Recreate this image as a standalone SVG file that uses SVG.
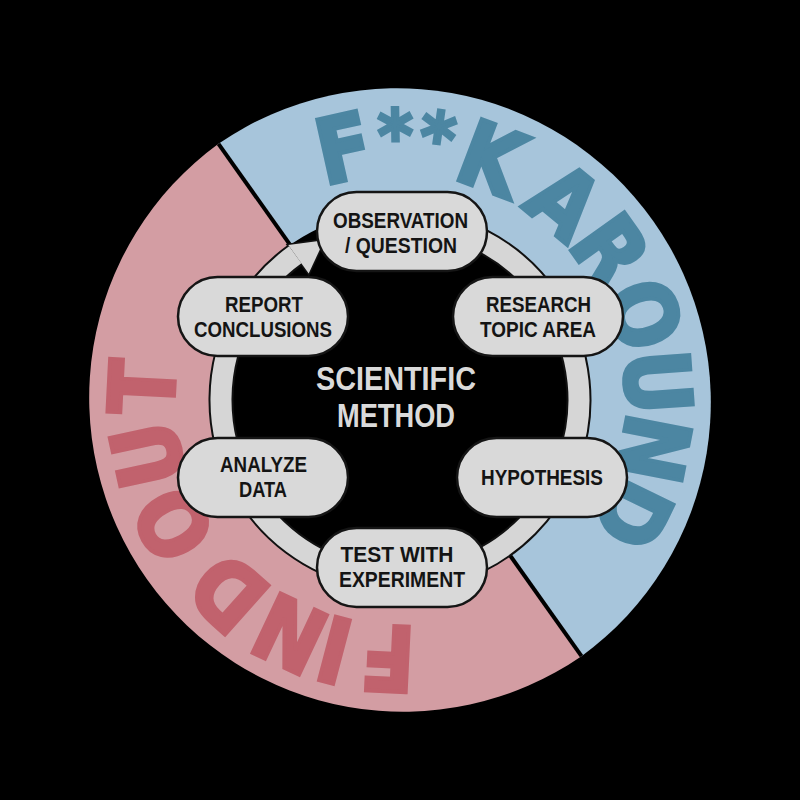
<svg xmlns="http://www.w3.org/2000/svg" width="800" height="800" viewBox="0 0 800 800">
  <style>
    .node rect { fill: #d9d9d9; stroke: #151515; stroke-width: 2.5; }
    .node text { font-family: "Liberation Sans", "Roboto", sans-serif; font-weight: 700; font-size: 22px; fill: #141414; text-anchor: middle; }
    .title { font-family: "Liberation Sans", "Roboto", sans-serif; font-weight: 700; font-size: 33px; fill: #dadada; text-anchor: middle; }
    .al { font-family: "DejaVu Sans", "Liberation Sans", sans-serif; font-weight: 700; font-size: 90px; text-anchor: middle; stroke-width: 4; stroke-linejoin: miter; }
    .ast { font-size: 72px; stroke-width: 3; }
    .blue { fill: #4c86a2; stroke: #4c86a2; }
    .pink { fill: #c1626d; stroke: #c1626d; }
  </style>
  <rect width="800" height="800" fill="#000"/>

  <g id="background-halves">
    <path d="M 581.5,656.2 A 314 314 0 0 1 218.5,143.8 Z" fill="#d39da3"/>
    <path d="M 218.5,143.8 A 314 314 0 0 1 581.5,656.2 Z" fill="#a7c5db"/>
    <line x1="218.5" y1="143.8" x2="581.5" y2="656.2" stroke="#000" stroke-width="4"/>
  </g>

  <g id="label-fk-around" class="al blue">
    <text transform="rotate(-12.6 400 400) translate(400 174) scale(0.88 1)">F</text>
    <text class="ast" transform="rotate(-1 400 400) translate(400 161) scale(0.95 1)">*</text>
    <text class="ast" transform="rotate(8.1 400 400) translate(400 161) scale(0.95 1)">*</text>
    <text transform="rotate(20.8 400 400) translate(400 174) scale(0.88 1)">K</text>
    <text transform="rotate(39.6 400 400) translate(400 174) scale(0.88 1)">A</text>
    <text transform="rotate(54.6 400 400) translate(400 174) scale(0.88 1)">R</text>
    <text transform="rotate(70.7 400 400) translate(400 174) scale(0.88 1)">O</text>
    <text transform="rotate(86 400 400) translate(400 174) scale(0.88 1)">U</text>
    <text transform="rotate(100.9 400 400) translate(400 174) scale(0.88 1)">N</text>
    <text transform="rotate(115.9 400 400) translate(400 174) scale(0.88 1)">D</text>
  </g>

  <g id="label-find-out" class="al pink">
    <text transform="rotate(2.7 400 400) translate(400 626) rotate(180) scale(0.88 1)">F</text>
    <text transform="rotate(14.7 400 400) translate(400 626) rotate(180) scale(0.88 1)">I</text>
    <text transform="rotate(25.2 400 400) translate(400 626) rotate(180) scale(0.88 1)">N</text>
    <text transform="rotate(41.7 400 400) translate(400 626) rotate(180) scale(0.88 1)">D</text>
    <text transform="rotate(61.3 400 400) translate(400 626) rotate(180) scale(0.88 1)">O</text>
    <text transform="rotate(77.7 400 400) translate(400 626) rotate(180) scale(0.88 1)">U</text>
    <text transform="rotate(92.9 400 400) translate(400 626) rotate(180) scale(0.88 1)">T</text>
  </g>

  <circle id="center-disk" cx="400" cy="400" r="190" fill="#000"/>

  <g id="connectors">
    <path d="M 406.2,221.1 A 179 179 0 1 1 295.3,254.8" fill="none" stroke="#111" stroke-width="25"/>
    <polygon points="288.3,245.1 324.2,240.2 308.7,273.5" fill="#111" stroke="#111" stroke-width="3"/>
    <path d="M 406.2,221.1 A 179 179 0 1 1 295.3,254.8" fill="none" stroke="#d6d6d6" stroke-width="21"/>
    <polygon points="288.3,245.1 324.2,240.2 308.7,273.5" fill="#d6d6d6"/>
  </g>

  <g id="title">
    <text class="title" x="396" y="389.5" textLength="160" lengthAdjust="spacingAndGlyphs">SCIENTIFIC</text>
    <text class="title" x="396" y="426.5" textLength="118" lengthAdjust="spacingAndGlyphs">METHOD</text>
  </g>

  <g id="node-observation" class="node">
    <rect x="317" y="192" width="170" height="79" rx="39.5"/>
    <text x="400.5" y="227.5" textLength="135" lengthAdjust="spacingAndGlyphs">OBSERVATION</text>
    <text x="401" y="252.5" textLength="112" lengthAdjust="spacingAndGlyphs">/ QUESTION</text>
  </g>
  <g id="node-research" class="node">
    <rect x="453" y="277" width="170" height="79" rx="39.5"/>
    <text x="538.5" y="311.5" textLength="105" lengthAdjust="spacingAndGlyphs">RESEARCH</text>
    <text x="538" y="336.5" textLength="116" lengthAdjust="spacingAndGlyphs">TOPIC AREA</text>
  </g>
  <g id="node-hypothesis" class="node">
    <rect x="457" y="438" width="170" height="79" rx="39.5"/>
    <text x="542" y="485" textLength="122" lengthAdjust="spacingAndGlyphs">HYPOTHESIS</text>
  </g>
  <g id="node-test" class="node">
    <rect x="317" y="528" width="170" height="79" rx="39.5"/>
    <text x="397" y="561.5" textLength="113" lengthAdjust="spacingAndGlyphs">TEST WITH</text>
    <text x="402" y="586.5" textLength="126" lengthAdjust="spacingAndGlyphs">EXPERIMENT</text>
  </g>
  <g id="node-analyze" class="node">
    <rect x="178" y="438" width="170" height="79" rx="39.5"/>
    <text x="263.5" y="471.5" textLength="87" lengthAdjust="spacingAndGlyphs">ANALYZE</text>
    <text x="263" y="496.5" textLength="48" lengthAdjust="spacingAndGlyphs">DATA</text>
  </g>
  <g id="node-report" class="node">
    <rect x="178" y="277" width="170" height="79" rx="39.5"/>
    <text x="264" y="311.5" textLength="78" lengthAdjust="spacingAndGlyphs">REPORT</text>
    <text x="263" y="336.5" textLength="138" lengthAdjust="spacingAndGlyphs">CONCLUSIONS</text>
  </g>
</svg>
